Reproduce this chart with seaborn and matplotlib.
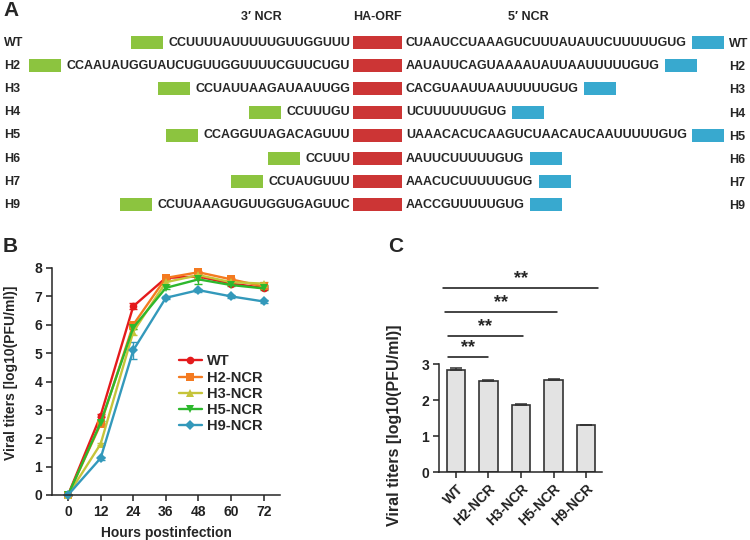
import matplotlib
matplotlib.use('Agg')
import matplotlib.pyplot as plt
from matplotlib.patches import Rectangle
import numpy as np
import pandas as pd
import seaborn as sns

# ---- panel A: NCR sequences
strains_a = ['WT', 'H2', 'H3', 'H4', 'H5', 'H6', 'H7', 'H9']
ncr3 = ['CCUUUUAUUUUUGUUGGUUU', 'CCAAUAUGGUAUCUGUUGGUUUUCGUUCUGU', 'CCUAUUAAGAUAAUUGG',
        'CCUUUGU', 'CCAGGUUAGACAGUUU', 'CCUUU', 'CCUAUGUUU', 'CCUUAAAGUGUUGGUGAGUUC']
ncr5 = ['CUAAUCCUAAAGUCUUUAUAUUCUUUUUGUG', 'AAUAUUCAGUAAAAUAUUAAUUUUUGUG', 'CACGUAAUUAAUUUUUGUG',
        'UCUUUUUUGUG', 'UAAACACUCAAGUCUAACAUCAAUUUUUGUG', 'AAUUCUUUUUGUG', 'AAACUCUUUUUGUG',
        'AACCGUUUUUGUG']

# ---- panel B: growth curves
hours = [0, 12, 24, 36, 48, 60, 72]
strains_b = ['WT', 'H2-NCR', 'H3-NCR', 'H5-NCR', 'H9-NCR']
titer_wt = [0, 2.8, 6.65, 7.65, 7.7, 7.45, 7.3]
titer_h2 = [0, 2.5, 6.0, 7.65, 7.85, 7.6, 7.35]
titer_h3 = [0, 1.8, 5.75, 7.5, 7.75, 7.5, 7.45]
titer_h5 = [0, 2.55, 5.9, 7.3, 7.6, 7.4, 7.28]
titer_h9 = [0, 1.3, 5.1, 6.95, 7.22, 7.0, 6.82]
err_wt = [0, 0.05, 0.1, 0.05, 0.05, 0.05, 0.05]
err_h2 = [0, 0.05, 0.05, 0.05, 0.05, 0.05, 0.05]
err_h3 = [0, 0.05, 0.1, 0.05, 0.05, 0.05, 0.05]
err_h5 = [0, 0.05, 0.05, 0.05, 0.15, 0.05, 0.05]
err_h9 = [0, 0.05, 0.3, 0.05, 0.05, 0.05, 0.05]

# ---- panel C: titers at 12 h
strains_c = ['WT', 'H2-NCR', 'H3-NCR', 'H5-NCR', 'H9-NCR']
titer_c = [2.82, 2.52, 1.85, 2.55, 1.3]
err_c = [0.08, 0.04, 0.05, 0.02, 0.0]
sig_y = [3.2, 3.78, 4.44, 5.11]
sig_x0 = [-0.25, -0.25, -0.34, -0.4]
sig_x1 = [1.0, 2.06, 3.1, 4.37]

colors_b = ['#E41A1C', '#F47A20', '#C6C43A', '#2DB82D', '#3399BB']
markers_b = ['o', 's', '^', 'v', 'D']
red, green, blue = '#CC3535', '#8CC43F', '#38A9CF'

sns.set_theme(style='ticks')
plt.rcParams['font.family'] = ['Liberation Sans', 'DejaVu Sans']
plt.rcParams['font.weight'] = 'bold'
plt.rcParams['axes.labelweight'] = 'bold'
plt.rcParams['axes.linewidth'] = 1.1
plt.rcParams['xtick.major.width'] = 1.1
plt.rcParams['ytick.major.width'] = 1.1
plt.rcParams['xtick.color'] = '#222222'
plt.rcParams['ytick.color'] = '#222222'

fig = plt.figure(figsize=(7.5, 5.4), dpi=100)

# full-figure axes in pixel units for the schematic and panel letters
ax_a = fig.add_axes([0, 0, 1, 1])
ax_a.set_xlim(0, 750)
ax_a.set_ylim(540, 0)
ax_a.axis('off')

seq_fs = 9
row0, row_step = 42.5, 23.2
red_x0, red_w, bh = 353, 49, 13
box_w, gap = 32, 5.5

for letter, (lx, ly) in zip('ABC', [(3, 11), (3, 247), (388, 247)]):
    ax_a.text(lx, ly, letter, fontsize=15, fontweight='bold', ha='left', va='center')

ax_a.text(261, 17, '3\u2032 NCR', fontsize=seq_fs, ha='center', va='center')
ax_a.text(377, 17, 'HA-ORF', fontsize=seq_fs, ha='center', va='center')
ax_a.text(528, 17, '5\u2032 NCR', fontsize=seq_fs, ha='center', va='center')

texts = []
for i, s in enumerate(strains_a):
    y = row0 + i * row_step
    ax_a.add_patch(Rectangle((red_x0, y - bh / 2), red_w, bh, color=red, lw=0))
    ax_a.text(4, y, s, fontsize=seq_fs, ha='left', va='center')
    ax_a.text(729, y + 1.5, s, fontsize=seq_fs, ha='left', va='center')
    t3 = ax_a.text(red_x0 - 3, y, ncr3[i], fontsize=seq_fs, ha='right', va='center')
    t5 = ax_a.text(red_x0 + red_w + 4, y, ncr5[i], fontsize=seq_fs, ha='left', va='center')
    texts.append((y, t3, t5))

fig.canvas.draw()
renderer = fig.canvas.get_renderer()
inv = ax_a.transData.inverted()
for y, t3, t5 in texts:
    b3 = inv.transform(t3.get_window_extent(renderer))
    b5 = inv.transform(t5.get_window_extent(renderer))
    left = min(b3[:, 0])
    right = max(b5[:, 0])
    ax_a.add_patch(Rectangle((left - gap - box_w, y - bh / 2), box_w, bh, color=green, lw=0))
    ax_a.add_patch(Rectangle((right + gap, y - bh / 2), box_w, bh, color=blue, lw=0))

# ---- panel B
ax_b = fig.add_axes([52 / 750, 1 - 495 / 540, 228 / 750, 227 / 540])
df_b = pd.DataFrame({
    'hours': hours * 5,
    'titer': titer_wt + titer_h2 + titer_h3 + titer_h5 + titer_h9,
    'err': err_wt + err_h2 + err_h3 + err_h5 + err_h9,
    'strain': [s for s in strains_b for _ in hours],
})
sns.lineplot(data=df_b, x='hours', y='titer', hue='strain', style='strain',
             palette=colors_b, markers=markers_b, dashes=False, errorbar=None,
             linewidth=1.7, markersize=5.5, markeredgewidth=0, ax=ax_b)
for s, c in zip(strains_b, colors_b):
    sub = df_b[df_b['strain'] == s]
    ax_b.errorbar(sub['hours'], sub['titer'], yerr=sub['err'], fmt='none',
                  ecolor=c, elinewidth=1, capsize=3, capthick=1, zorder=1)
for ln in ax_b.lines:
    ln.set_clip_on(False)
ax_b.set_xlim(-5.9, 78)
ax_b.set_ylim(0, 8)
ax_b.set_xticks(hours)
ax_b.set_yticks(range(9))
ax_b.tick_params(labelsize=10, length=4, pad=3)
for lab in ax_b.get_xticklabels() + ax_b.get_yticklabels():
    lab.set_fontweight('bold')
ax_b.set_xlabel('Hours postinfection', fontsize=10, labelpad=5)
ax_b.set_ylabel('Viral titers [log10(PFU/ml)]', fontsize=10)
ax_b.yaxis.set_label_coords(-0.15, 0.54)
sns.despine(ax=ax_b)
ax_b.legend(frameon=False, loc='upper left', bbox_to_anchor=(0.53, 0.645),
            prop={'size': 10.5, 'weight': 'bold'}, handlelength=1.6,
            labelspacing=0.15, borderaxespad=0, handletextpad=0.35)

# ---- panel C
ax_c = fig.add_axes([439 / 750, 1 - 472 / 540, 163 / 750, 108 / 540])
sns.barplot(x=strains_c, y=titer_c, color='#E3E3E3', edgecolor='#333333',
            linewidth=1.2, width=0.56, errorbar=None, ax=ax_c, saturation=1)
ax_c.errorbar(range(len(strains_c)), titer_c, yerr=[np.zeros(len(err_c)), err_c],
              fmt='none', ecolor='#333333', elinewidth=1.1, capsize=4, capthick=1.1)
ax_c.set_xlim(-0.52, 4.49)
ax_c.set_ylim(0, 3)
ax_c.set_yticks(range(4))
ax_c.tick_params(labelsize=10, length=4, pad=3)
ax_c.set_xticks(range(len(strains_c)))
ax_c.set_xticklabels(strains_c, rotation=45, ha='right', rotation_mode='anchor',
                     fontweight='bold')
for lab in ax_c.get_yticklabels():
    lab.set_fontweight('bold')
ax_c.set_ylabel('Viral titers [log10(PFU/ml)]', fontsize=11.5)
ax_c.yaxis.set_label_coords(-0.23, 0.43)
sns.despine(ax=ax_c)
for y, x0, x1 in zip(sig_y, sig_x0, sig_x1):
    ax_c.plot([x0, x1], [y, y], color='#111111', lw=1.1, clip_on=False)
    ax_c.text((x0 + x1) / 2, y + 0.02, '**', ha='center', va='bottom',
              fontsize=13, fontweight='bold', clip_on=False)

fig.savefig('out.png', dpi=100)
